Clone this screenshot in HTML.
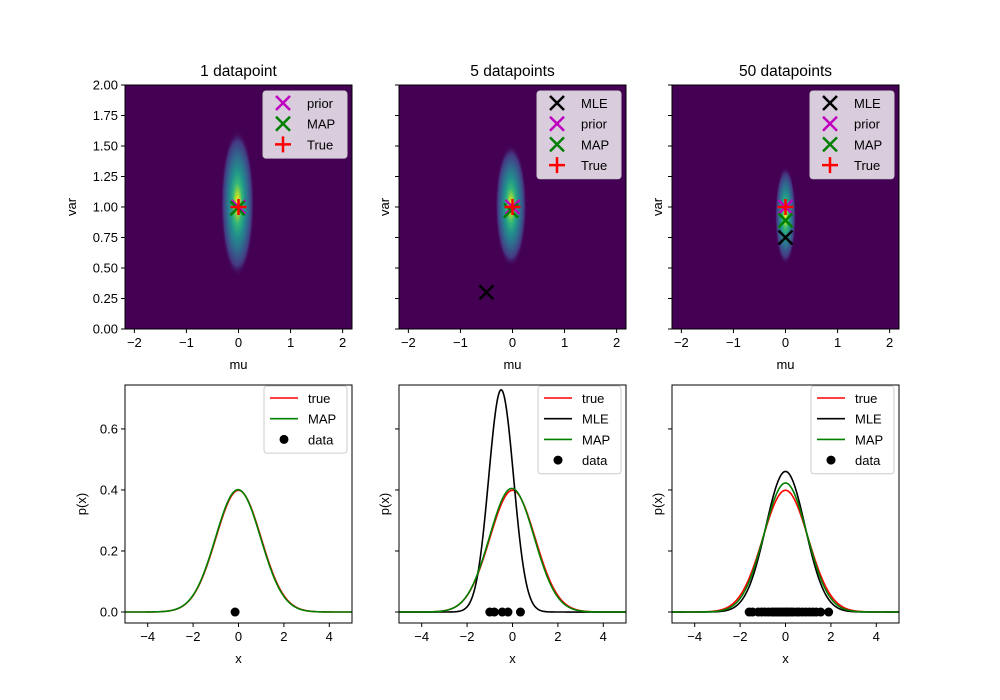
<!DOCTYPE html>
<html><head><meta charset="utf-8"><style>
body{margin:0;background:#fff}
svg{display:block;font-family:"Liberation Sans","DejaVu Sans",sans-serif}
</style></head><body>
<svg id="fig" width="1000" height="700" xmlns="http://www.w3.org/2000/svg">
<defs>
<radialGradient id="vir">
<stop offset="0" stop-color="#fde725"/>
<stop offset="0.12" stop-color="#b5de2b"/>
<stop offset="0.28" stop-color="#35b779"/>
<stop offset="0.45" stop-color="#21918c"/>
<stop offset="0.65" stop-color="#31688e"/>
<stop offset="0.85" stop-color="#443983"/>
<stop offset="1" stop-color="#440154" stop-opacity="0"/>
</radialGradient>
</defs>
</svg>
<script>
const NS="http://www.w3.org/2000/svg";
const svg=document.getElementById('fig');
// ---- data ----
const titles=["1 datapoint","5 datapoints","50 datapoints"];
const trueMu=[0,0,0];
const trueVar=[1,1,1];
const mapMu=[-0.02,-0.03,0.0];
const mapVar=[0.99,0.97,0.89];
const mleMu=[null,-0.5,0.0];
const mleVar=[null,0.3,0.75];
const priorMu=[0,0,0];
const priorVar=[1,1,1];
const data1=[-0.15];
const data2=[-1.0,-0.8,-0.45,-0.2,0.35];
const data3=[-1.6,-1.45,-1.2,-1.05,-0.9,-0.75,-0.6,-0.5,-0.4,-0.3,-0.2,-0.1,0,0.05,0.15,0.25,0.35,0.5,0.6,0.75,0.9,1.05,1.2,1.35,1.55,1.9];
const dataSets=[data1,data2,data3];
const blobRx=[0.32,0.3,0.2];
const blobRy=[0.6,0.5,0.4];
const topXTicks=[-2,-1,0,1,2];
const topYTicks=[0,0.25,0.5,0.75,1.0,1.25,1.5,1.75,2.0];
const topYLabels=["0.00","0.25","0.50","0.75","1.00","1.25","1.50","1.75","2.00"];
const botXTicks=[-4,-2,0,2,4];
const botYTicks=[0,0.2,0.4,0.6];
const botYLabels=["0.0","0.2","0.4","0.6"];
// ---- layout ----
const colX=[[125,352],[399,626],[672,899]];
const topY=[85,329], botY=[385,623];
function el(tag,attrs,parent,name,inter){const e=document.createElementNS(NS,tag);for(const k in attrs)e.setAttribute(k,attrs[k]);(parent||svg).appendChild(e);


return e;}
function txt(x,y,s,attrs,name){const t=el('text',Object.assign({x:x,y:y,'font-size':13,fill:'#000'},attrs||{}),null,name);t.textContent=s;return t;}
function lin(d0,d1,r0,r1){return v=>r0+(v-d0)*(r1-r0)/(d1-d0);}
function pdf(x,m,v){return Math.exp(-(x-m)*(x-m)/(2*v))/Math.sqrt(2*Math.PI*v);}
function xMark(x,y,c,name){const s=7;el('path',{d:`M${x-s},${y-s}L${x+s},${y+s}M${x-s},${y+s}L${x+s},${y-s}`,stroke:c,'stroke-width':2.5,fill:'none'},null,name);}
function plusMark(x,y,c,name){const s=8;el('path',{d:`M${x-s},${y}L${x+s},${y}M${x},${y-s}L${x},${y+s}`,stroke:c,'stroke-width':2.5,fill:'none'},null,name);}
function legend(x0,y0,w,items,name){
  const h=items.length*20.7+5;
  el('rect',{x:x0,y:y0,width:w,height:h,rx:3,fill:'rgba(255,255,255,0.8)',stroke:'#ccc'},null,name);
  items.forEach((it,i)=>{const cy=y0+12+i*20.7;const cx=x0+20;
    if(it.t==='line')el('line',{x1:cx-14,x2:cx+14,y1:cy,y2:cy,stroke:it.c,'stroke-width':1.6},null,'legend-line-'+it.l);
    else if(it.t==='x')xMark(cx,cy,it.c,'legend-marker-'+it.l);
    else if(it.t==='+')plusMark(cx,cy,it.c,'legend-marker-'+it.l);
    else el('circle',{cx:cx,cy:cy,r:4.5,fill:'#000'},null,'legend-marker-'+it.l);
    txt(x0+44,cy+5,it.l,{},'legend-label-'+it.l);});
}
for(let c=0;c<3;c++){
  const [L,R]=colX[c];
  // ---- top panel ----
  const sx=lin(-2.18,2.18,L,R), sy=lin(0,2,topY[1],topY[0]);
  el('rect',{x:L,y:topY[0],width:R-L,height:topY[1]-topY[0],fill:'#440154'},null,'heatmap-background-'+(c+1));
  const bx=sx(mapMu[c]), by=sy(mapVar[c]+0.04);
  el('ellipse',{cx:bx,cy:by,rx:sx(blobRx[c])-sx(0),ry:sy(0)-sy(blobRy[c]),fill:'url(#vir)'},null,'posterior-density-'+(c+1));
  if(mleMu[c]!==null)xMark(sx(mleMu[c]),sy(mleVar[c]),'#000','mle-marker-'+(c+1));
  xMark(sx(priorMu[c]),sy(priorVar[c]),'#bf00bf','prior-marker-'+(c+1));
  xMark(sx(mapMu[c]),sy(mapVar[c]),'#008000','map-marker-'+(c+1));
  plusMark(sx(trueMu[c]),sy(trueVar[c]),'#ff0000','true-marker-'+(c+1));
  el('rect',{x:L,y:topY[0],width:R-L,height:topY[1]-topY[0],fill:'none',stroke:'#000','stroke-width':1},null,'top-axes-frame-'+(c+1));
  topXTicks.forEach(t=>{const x=sx(t);el('line',{x1:x,x2:x,y1:topY[1],y2:topY[1]+4,stroke:'#000'},null,'x-tick');txt(x,topY[1]+18,(t<0?'−':'')+Math.abs(t),{'text-anchor':'middle'},'x-tick-label');});
  topYTicks.forEach((t,i)=>{const y=sy(t);el('line',{x1:L-4,x2:L,y1:y,y2:y,stroke:'#000'},null,'y-tick');if(c===0)txt(L-7,y+4.5,topYLabels[i],{'text-anchor':'end'},'y-tick-label');});
  txt((L+R)/2,topY[1]+40,'mu',{'text-anchor':'middle'},'x-axis-title-mu');
  txt(0,0,'var',{'text-anchor':'middle',transform:`translate(${c===0?76:L-10},${(topY[0]+topY[1])/2}) rotate(-90)`},'y-axis-title-var');
  txt((L+R)/2,topY[0]-9,titles[c],{'text-anchor':'middle','font-size':15.5},'subplot-title');
  const items=[];
  if(mleMu[c]!==null)items.push({t:'x',c:'#000',l:'MLE'});
  items.push({t:'x',c:'#bf00bf',l:'prior'},{t:'x',c:'#008000',l:'MAP'},{t:'+',c:'#ff0000',l:'True'});
  legend(R-89,91,84,items,'top-legend-'+(c+1));
  // ---- bottom panel ----
  const bxs=lin(-5,5,L,R), bys=lin(-0.036,0.744,botY[1],botY[0]);
  const curve=(m,v,col,name)=>{let d='';for(let i=0;i<=300;i++){const x=-5+10*i/300;d+=(i?'L':'M')+bxs(x).toFixed(2)+','+bys(pdf(x,m,v)).toFixed(2);}el('path',{d:d,stroke:col,'stroke-width':1.6,fill:'none'},null,name);};
  curve(trueMu[c],trueVar[c],'#ff0000','true-curve-'+(c+1));
  if(mleMu[c]!==null)curve(mleMu[c],mleVar[c],'#000','mle-curve-'+(c+1));
  curve(mapMu[c],mapVar[c],'#008000','map-curve-'+(c+1));
  dataSets[c].forEach(d=>el('circle',{cx:bxs(d),cy:bys(0),r:4.5,fill:'#000'},null,'data-point'));
  el('rect',{x:L,y:botY[0],width:R-L,height:botY[1]-botY[0],fill:'none',stroke:'#000'},null,'bottom-axes-frame-'+(c+1));
  botXTicks.forEach(t=>{const x=bxs(t);el('line',{x1:x,x2:x,y1:botY[1],y2:botY[1]+4,stroke:'#000'},null,'x-tick');txt(x,botY[1]+18,(t<0?'−':'')+Math.abs(t),{'text-anchor':'middle'},'x-tick-label');});
  botYTicks.forEach((t,i)=>{const y=bys(t);el('line',{x1:L-4,x2:L,y1:y,y2:y,stroke:'#000'},null,'y-tick');if(c===0)txt(L-7,y+4.5,botYLabels[i],{'text-anchor':'end'},'y-tick-label');});
  txt((L+R)/2,botY[1]+40,'x',{'text-anchor':'middle'},'x-axis-title-x');
  txt(0,0,'p(x)',{'text-anchor':'middle',transform:`translate(${c===0?86:L-10},${(botY[0]+botY[1])/2}) rotate(-90)`},'y-axis-title-px');
  const bi=[{t:'line',c:'#ff0000',l:'true'}];
  if(mleMu[c]!==null)bi.push({t:'line',c:'#000',l:'MLE'});
  bi.push({t:'line',c:'#008000',l:'MAP'},{t:'dot',c:'#000',l:'data'});
  legend(R-88,386,83,bi,'bottom-legend-'+(c+1));
}
</script>
</body></html>
